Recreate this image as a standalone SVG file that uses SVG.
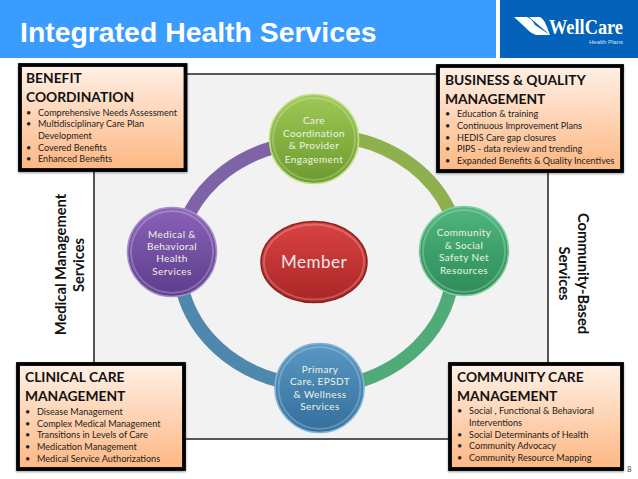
<svg xmlns="http://www.w3.org/2000/svg" width="638" height="479" viewBox="0 0 638 479">
<style>
text{font-family:Lato,"Liberation Sans",sans-serif}
.box{fill:url(#boxg);stroke:#000;stroke-width:3.8;filter:url(#sh)}
.h{font-size:13.8px;font-weight:700;fill:#111}
.li{font-size:9.1px;fill:#222}
.nl{font-size:10px;fill:#eef4e6;text-anchor:middle;letter-spacing:.4px}
.side{font-size:14.7px;font-weight:700;fill:#111;text-anchor:middle}
.arc{fill:none;stroke-width:13.500}
.ball{stroke-width:1.5}
.rim{fill:none;stroke:#fff;stroke-opacity:.22;stroke-width:2}
</style>
<defs>
<filter id="sh" x="-5%" y="-5%" width="110%" height="110%"><feDropShadow dx="0" dy="1" stdDeviation="1" flood-color="#000" flood-opacity=".4"/></filter>
<linearGradient id="boxg" x1="0" y1="0" x2="0" y2="1"><stop offset="0" stop-color="#fff0e6"/><stop offset="1" stop-color="#fdb782"/></linearGradient>
<linearGradient id="g1" x1="0" y1="0" x2="0" y2="1"><stop offset="0" stop-color="#9fc955"/><stop offset="1" stop-color="#6c9a2e"/></linearGradient>
<linearGradient id="g2" x1="0" y1="0" x2="0" y2="1"><stop offset="0" stop-color="#4fb57d"/><stop offset="1" stop-color="#2c8c58"/></linearGradient>
<linearGradient id="g3" x1="0" y1="0" x2="0" y2="1"><stop offset="0" stop-color="#5a97c2"/><stop offset="1" stop-color="#336f9c"/></linearGradient>
<linearGradient id="g4" x1="0" y1="0" x2="0" y2="1"><stop offset="0" stop-color="#8a62b8"/><stop offset="1" stop-color="#5c3d8c"/></linearGradient>
<linearGradient id="g5" x1="0" y1="0" x2="0" y2="1"><stop offset="0" stop-color="#d94343"/><stop offset="1" stop-color="#ab2626"/></linearGradient>
</defs>
<rect id="title-bar" width="496" height="58" fill="#3b9cff"/>
<rect id="logo-bar" x="500" width="138" height="58" fill="#0462bb"/>
<text x="20" y="42" font-size="28.400" font-weight="700" fill="#fff" style="font-family:'Liberation Sans',sans-serif">Integrated Health Services</text>
<g id="logo">
<path d="M514 17H527Q532 19 535 25L550 35H536Q530 33 526 28ZM529 17H540Q544 19 547 27L550 35Q541 27 529 17Z" fill="#fff"/>
<text x="549" y="34" font-size="20" font-weight="700" fill="#fff" style="font-family:'Liberation Serif',serif" textLength="74" lengthAdjust="spacingAndGlyphs">WellCare</text>
<text x="623" y="44" font-size="6" fill="#cfe0f2" text-anchor="end" style="font-family:'Liberation Sans',sans-serif">Health Plans</text>
</g>
<rect id="panel" x="94" y="74" width="454" height="365" fill="#f2f2f2" stroke="#222" stroke-width="1.500"/>
<g id="connectors">
<path class="arc" stroke="#7f63a8" d="M275 147A140 124 0 0 0 190 212"/>
<path class="arc" stroke="#8fb04f" d="M355 139A140 124 0 0 1 450 212"/>
<path class="arc" stroke="#4f88ad" d="M183 292A140 124 0 0 0 280 381"/>
<path class="arc" stroke="#4fab78" d="M450 292A140 124 0 0 1 360 381"/>
</g>
<g id="node-care"><circle class="ball" cx="314" cy="139" r="44.500" fill="url(#g1)" stroke="#c3de82"/><circle class="rim" cx="314" cy="139" r="41"/>
<text class="nl" x="314" y="124">Care</text><text class="nl" x="314" y="137">Coordination</text><text class="nl" x="314" y="149">&amp; Provider</text><text class="nl" x="314" y="163">Engagement</text></g>
<g id="node-community"><circle class="ball" cx="464" cy="251" r="44.500" fill="url(#g2)" stroke="#7fcfa2"/><circle class="rim" cx="464" cy="251" r="41"/>
<text class="nl" x="464" y="236">Community</text><text class="nl" x="464" y="249">&amp; Social</text><text class="nl" x="464" y="261">Safety Net</text><text class="nl" x="464" y="274">Resources</text></g>
<g id="node-primary"><circle class="ball" cx="319.500" cy="388" r="44.500" fill="url(#g3)" stroke="#7fb4d8"/><circle class="rim" cx="319.500" cy="388" r="41"/>
<text class="nl" x="320" y="373">Primary</text><text class="nl" x="320" y="385">Care, EPSDT</text><text class="nl" x="320" y="398">&amp; Wellness</text><text class="nl" x="320" y="410">Services</text></g>
<g id="node-medical"><circle class="ball" cx="172" cy="252" r="44.500" fill="url(#g4)" stroke="#a68ccb"/><circle class="rim" cx="172" cy="252" r="41"/>
<text class="nl" x="172" y="238">Medical &amp;</text><text class="nl" x="172" y="250">Behavioral</text><text class="nl" x="172" y="262">Health</text><text class="nl" x="172" y="275">Services</text></g>
<g id="node-member"><ellipse class="ball" cx="314" cy="262" rx="53" ry="40.500" fill="url(#g5)" stroke="#8f2020"/><ellipse class="rim" cx="314" cy="262" rx="50" ry="37.500"/>
<text x="314" y="268" font-size="17" fill="#f5e8e8" text-anchor="middle" letter-spacing=".5">Member</text></g>
<g id="label-medical"><text class="side" transform="translate(66 264.500) rotate(-90)">Medical Management</text><text class="side" transform="translate(84 265) rotate(-90)">Services</text></g>
<g id="label-community"><text class="side" transform="translate(578 273.500) rotate(90)">Community-Based</text><text class="side" transform="translate(559 273.500) rotate(90)">Services</text></g>
<g id="box-benefit"><rect class="box" x="20" y="65" width="165.500" height="105"/>
<text class="h" x="26" y="83">BENEFIT</text><text class="h" x="26" y="102">COORDINATION</text>
<text class="li" x="26" y="116">•</text><text class="li" x="38" y="116">Comprehensive Needs Assessment</text>
<text class="li" x="26" y="127">•</text><text class="li" x="38" y="127">Multidisciplinary Care Plan</text>
<text class="li" x="38" y="139">Development</text>
<text class="li" x="26" y="151">•</text><text class="li" x="38" y="151">Covered Benefits</text>
<text class="li" x="26" y="162">•</text><text class="li" x="38" y="162">Enhanced Benefits</text></g>
<g id="box-business"><rect class="box" x="438" y="66" width="184" height="105"/>
<text class="h" x="445" y="85">BUSINESS &amp; QUALITY</text><text class="h" x="445" y="104">MANAGEMENT</text>
<text class="li" x="445" y="117">•</text><text class="li" x="457" y="117">Education &amp; training</text>
<text class="li" x="445" y="129">•</text><text class="li" x="457" y="129">Continuous Improvement Plans</text>
<text class="li" x="445" y="141">•</text><text class="li" x="457" y="141">HEDIS Care gap closures</text>
<text class="li" x="445" y="152">•</text><text class="li" x="457" y="152">PIPS  - data review and trending</text>
<text class="li" x="445" y="164">•</text><text class="li" x="457" y="164">Expanded Benefits &amp; Quality Incentives</text></g>
<g id="box-clinical"><rect class="box" x="18" y="364" width="166" height="105"/>
<text class="h" x="25" y="382">CLINICAL CARE</text><text class="h" x="25" y="401">MANAGEMENT</text>
<text class="li" x="25" y="415">•</text><text class="li" x="37" y="415">Disease Management</text>
<text class="li" x="25" y="427">•</text><text class="li" x="37" y="427">Complex Medical Management</text>
<text class="li" x="25" y="438">•</text><text class="li" x="37" y="438">Transitions in Levels of Care</text>
<text class="li" x="25" y="450">•</text><text class="li" x="37" y="450">Medication Management</text>
<text class="li" x="25" y="462">•</text><text class="li" x="37" y="462">Medical Service Authorizations</text></g>
<g id="box-community"><rect class="box" x="450" y="364" width="172" height="105"/>
<text class="h" x="457" y="382">COMMUNITY CARE</text><text class="h" x="457" y="401">MANAGEMENT</text>
<text class="li" x="457" y="414">•</text><text class="li" x="469" y="414">Social , Functional  &amp; Behavioral</text>
<text class="li" x="469" y="426">Interventions</text>
<text class="li" x="457" y="438">•</text><text class="li" x="469" y="438">Social Determinants of Health</text>
<text class="li" x="457" y="449">•</text><text class="li" x="469" y="449">Community Advocacy</text>
<text class="li" x="457" y="461">•</text><text class="li" x="469" y="461">Community Resource Mapping</text></g>
<text x="627" y="472" font-size="8" fill="#444">8</text>
</svg>
